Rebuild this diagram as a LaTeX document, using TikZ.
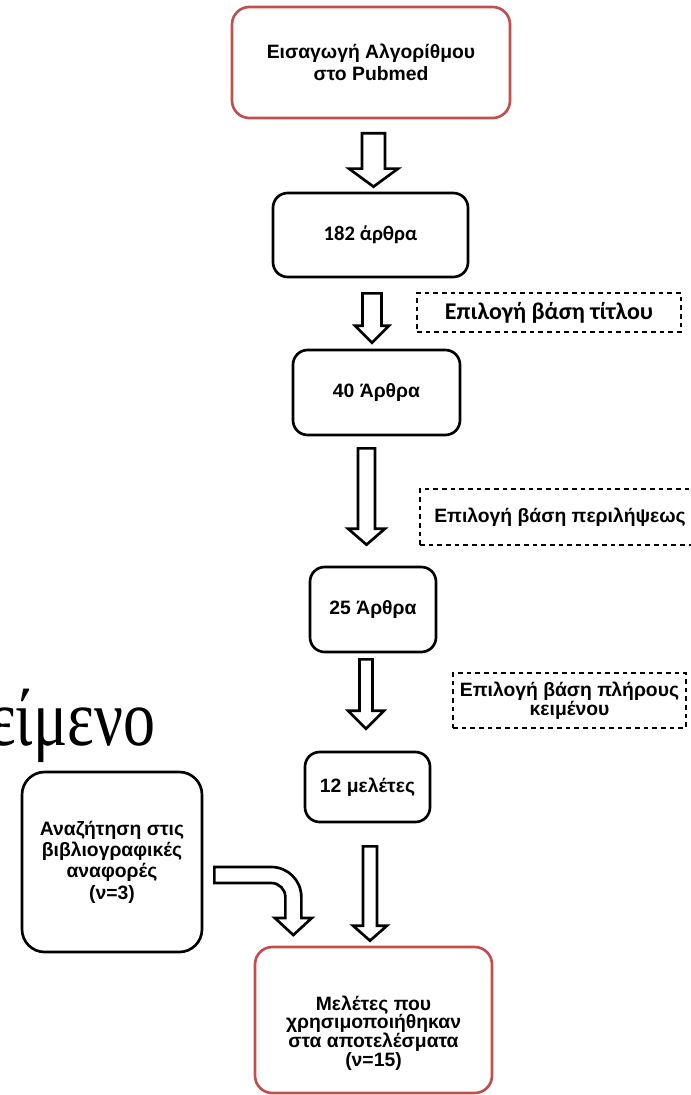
\documentclass[tikz,border=0pt]{standalone}
\usepackage{fontspec}
\setmainfont{Liberation Sans}
\newfontfamily\calfont{Carlito}
\newfontfamily\serfont{Liberation Serif}
\usetikzlibrary{calc}

\definecolor{boxred}{RGB}{192,80,77}

% hollow block arrow: from, tip, shaft half, head half, head length
\newcommand{\blockarrow}[5]{%
  \draw[block arrow] ($(#1)+(-#3,0)$) -- ($(#1)+(#3,0)$) -- ($(#1 |- #2)+(#3,-#5)$)
    -- ($(#1 |- #2)+(#4,-#5)$) -- (#1 |- #2) -- ($(#1 |- #2)+(-#4,-#5)$)
    -- ($(#1 |- #2)+(-#3,-#5)$) -- cycle;}

\begin{document}
\begin{tikzpicture}[x=0.75pt,y=-0.75pt,
  main node/.style={draw,line width=2pt,rounded corners=11pt,align=center,
    font=\fontsize{14.5}{16}\selectfont\bfseries},
  red node/.style={main node,draw=boxred,rounded corners=13pt},
  note node/.style={draw,dashed,line width=1.1pt,dash pattern=on 3.5pt off 3pt,
    align=center,font=\fontsize{14.5}{14}\selectfont\bfseries},
  block arrow/.style={draw,line width=2pt,fill=white,line join=miter}]

\useasboundingbox (0,0) rectangle (690,1095);

\node[font=\serfont\fontsize{60}{66}\selectfont,anchor=base east] (word) at (160,745) {\scalebox{0.8}[1]{κείμενο}};

\node[red node,minimum width=208.5pt,minimum height=83.25pt] (start) at (371,62.5) {Εισαγωγή Αλγορίθμου\\στο Pubmed};
\node[main node,minimum width=146.25pt,minimum height=63pt,font=\calfont\fontsize{15.5}{17}\selectfont\bfseries] (n182) at (370.5,235) {182 άρθρα};
\node[main node,minimum width=125.25pt,minimum height=63.75pt] (n40) at (376.5,392.5) {40 Άρθρα};
\node[main node,minimum width=94.5pt,minimum height=63.75pt] (n25) at (373,609.5) {25 Άρθρα};
\node[main node,minimum width=93.75pt,minimum height=52.5pt] (n12) at (367.5,787) {12 μελέτες};
\node[main node,minimum width=135pt,minimum height=135pt,rounded corners=17pt] (refs) at (112,862) {Αναζήτηση στις\\βιβλιογραφικές\\αναφορές\\(ν=3)};
\node[red node,minimum width=177.75pt,minimum height=109.5pt,font=\fontsize{14.5}{14}\selectfont\bfseries] (end) at (373.5,1020) {\rule{0pt}{30pt}Μελέτες που\\χρησιμοποιήθηκαν\\στα αποτελέσματα\\(ν=15)};

\node[note node,minimum width=198pt,minimum height=29.25pt,font=\calfont\fontsize{18}{19}\selectfont\bfseries] (title) at (549,312.5) {Επιλογή βάση τίτλου};
\node[note node,minimum width=210pt,minimum height=42pt] (abstract) at (560,517) {Επιλογή βάση περιλήψεως};
\node[note node,minimum width=174.75pt,minimum height=41.25pt] (fulltext) at (569.5,700.5) {Επιλογή βάση πλήρους\\κειμένου};

\coordinate (a1) at ($(start.south)+(2.5,14)$);
\coordinate (b1) at ($(n182.north)+(0,-5)$);
\blockarrow{a1}{b1}{11.5}{24.5}{18}
\coordinate (a2) at ($(n182.south)+(1.5,15)$);
\coordinate (b2) at ($(n40.north)+(0,-6)$);
\blockarrow{a2}{b2}{9.5}{17}{17}
\coordinate (a3) at ($(n40.south)+(-10,12)$);
\coordinate (b3) at ($(n25.north)+(0,-21)$);
\blockarrow{a3}{b3}{8.5}{18.5}{16}
\coordinate (a4) at ($(n25.south)+(-7,6)$);
\coordinate (b4) at ($(n12.north)+(0,-22)$);
\blockarrow{a4}{b4}{6.5}{18}{18}
\coordinate (a5) at ($(n12.south)+(2.5,23)$);
\coordinate (b5) at ($(end.north)+(0,-5)$);
\blockarrow{a5}{b5}{7}{17}{15}

\coordinate (c0) at ($(refs.east)+(11,13)$);
\draw[block arrow,shift={(c0)}] (0,-8) -- (57,-8) arc[start angle=-90,end angle=0,radius=30]
  -- (87,43) -- (97.5,43) -- (79,60) -- (60.5,43) -- (71,43) -- (71,22)
  arc[start angle=0,end angle=-90,radius=14] -- (0,8) -- cycle;

\end{tikzpicture}
\end{document}
